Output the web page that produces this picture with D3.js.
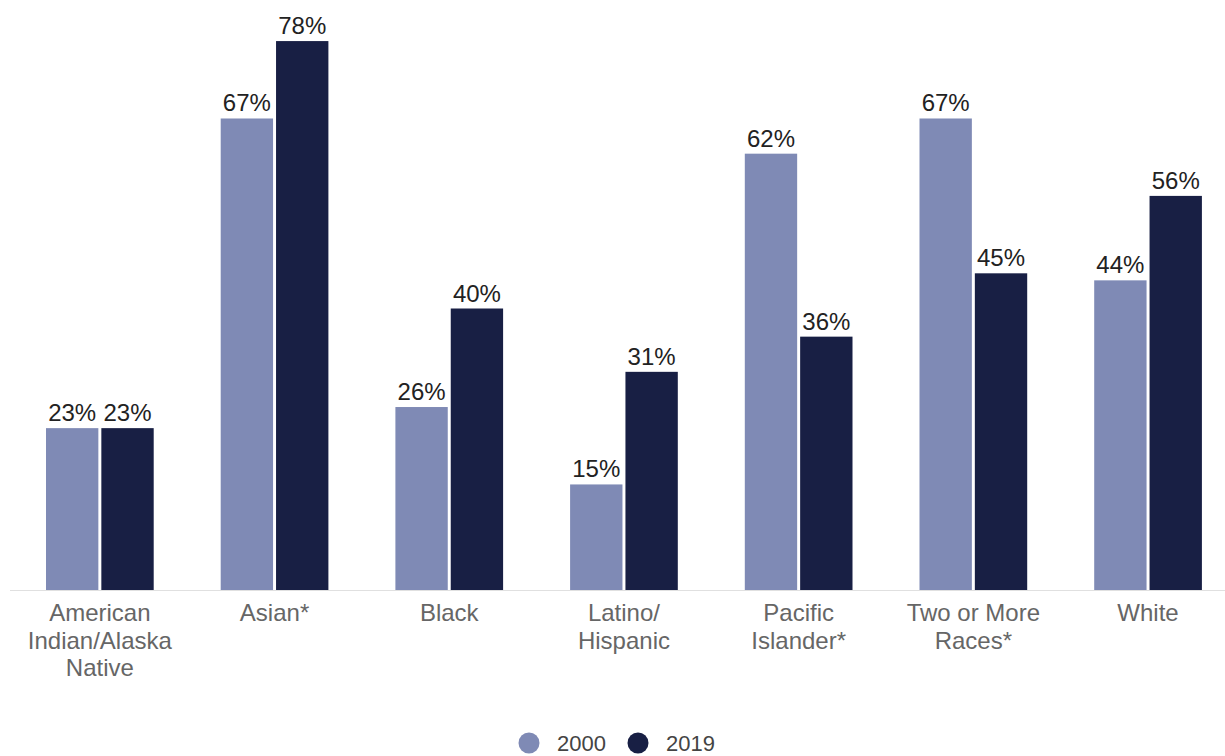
<!DOCTYPE html>
<html>
<head>
<meta charset="utf-8">
<script src="https://cdn.jsdelivr.net/npm/d3@7"></script>
<style>
  html, body { margin: 0; padding: 0; background: #fff; }
  svg { display: block; font-family: "Liberation Sans", Arial, sans-serif; }
</style>
</head>
<body>
<svg id="chart" width="1225" height="756"></svg>
<script>
// Share of each group, by year (percent)
const categories = [
  ["American", "Indian/Alaska", "Native"],
  ["Asian*"],
  ["Black"],
  ["Latino/", "Hispanic"],
  ["Pacific", "Islander*"],
  ["Two or More", "Races*"],
  ["White"]
];
const seriesNames = ["2000", "2019"];
const values2000 = [23, 67, 26, 15, 62, 67, 44];
const values2019 = [23, 78, 40, 31, 36, 45, 56];
const seriesColors = ["#7f8ab5", "#181f44"];

const rows = categories.map((c, i) => ({
  key: c.join(" "),
  lines: c,
  vals: [values2000[i], values2019[i]]
}));

const svg = d3.select("#chart");
const W = 1225;

const x0 = d3.scaleBand()
  .domain(rows.map(r => r.key))
  .range([12.5, 12.5 + 7 * 174.7])
  .padding(0);

const x1 = d3.scaleBand()
  .domain(seriesNames)
  .range([33.5, 141.2])
  .paddingInner(0.054);

const y = d3.scaleLinear().domain([0, 80]).range([590, 27]);

const color = d3.scaleOrdinal().domain(seriesNames).range(seriesColors);

// baseline
svg.append("line")
  .attr("x1", 10).attr("x2", W)
  .attr("y1", y(0) + 0.5).attr("y2", y(0) + 0.5)
  .attr("stroke", "#e0e0e0").attr("stroke-width", 1);

const groups = svg.append("g").selectAll("g")
  .data(rows)
  .join("g")
  .attr("transform", d => `translate(${x0(d.key)},0)`);

const bars = groups.selectAll("g")
  .data(d => d.vals.map((v, j) => ({ name: seriesNames[j], v })))
  .join("g");

bars.append("rect")
  .attr("x", d => x1(d.name))
  .attr("width", x1.bandwidth())
  .attr("y", d => y(d.v))
  .attr("height", d => y(0) - y(d.v))
  .attr("fill", d => color(d.name));

bars.append("text")
  .attr("x", d => x1(d.name) + x1.bandwidth() / 2)
  .attr("y", d => y(d.v) - 7)
  .attr("text-anchor", "middle")
  .attr("font-size", 24)
  .attr("fill", "#222")
  .text(d => d.v + "%");

// category labels
const xAxis = svg.append("g");
rows.forEach(r => {
  const t = xAxis.append("text")
    .attr("x", x0(r.key) + x0.bandwidth() / 2)
    .attr("y", 621)
    .attr("text-anchor", "middle")
    .attr("font-size", 24)
    .attr("fill", "#666");
  r.lines.forEach((ln, i) => {
    t.append("tspan")
      .attr("x", x0(r.key) + x0.bandwidth() / 2)
      .attr("dy", i === 0 ? 0 : 27.5)
      .text(ln);
  });
});

// legend
const legend = svg.append("g");
const legendPos = [529, 638];
seriesNames.forEach((s, i) => {
  legend.append("circle")
    .attr("cx", legendPos[i]).attr("cy", 743).attr("r", 10.5)
    .attr("fill", color(s));
  legend.append("text")
    .attr("x", legendPos[i] + 28).attr("y", 751)
    .attr("font-size", 22)
    .attr("fill", "#444")
    .text(s);
});
</script>
</body>
</html>
